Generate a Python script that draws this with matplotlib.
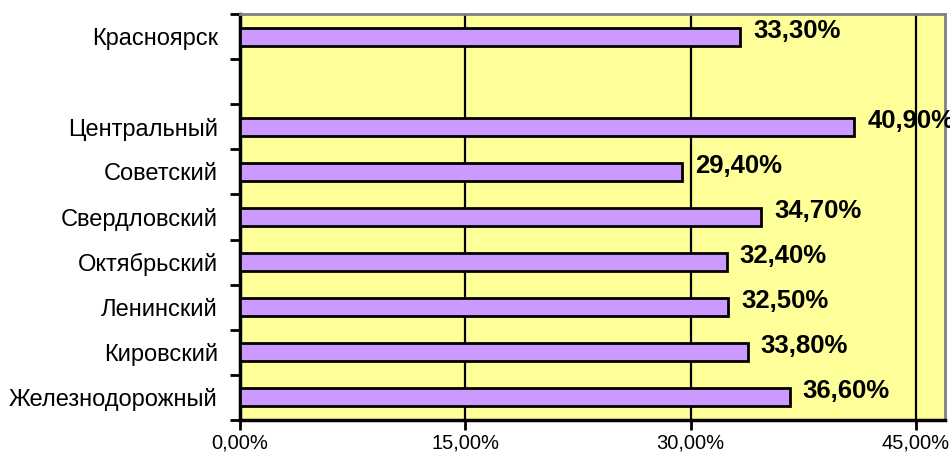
import matplotlib.pyplot as plt
import numpy as np

plt.rcParams['font.family'] = ['Liberation Sans', 'DejaVu Sans']

# Data (top to bottom), empty slot between the city and its districts
categories = ['Красноярск', '', 'Центральный', 'Советский', 'Свердловский',
              'Октябрьский', 'Ленинский', 'Кировский', 'Железнодорожный']
values = [33.3, None, 40.9, 29.4, 34.7, 32.4, 32.5, 33.8, 36.6]
xticks = [0, 15, 30, 45]

fig = plt.figure(figsize=(9.5, 4.55), dpi=100)
ax = fig.add_axes([240 / 950, 35 / 455, 705 / 950, 406 / 455])
ax.set_facecolor('#FFFF99')

pos = np.arange(len(categories))
for y, v in zip(pos, values):
    if v is None:
        continue
    ax.barh(y, v, height=0.4, color='#CC99FF', edgecolor='black', linewidth=2, zorder=3)
    ax.annotate(f'{v:.2f}%'.replace('.', ','), xy=(v, y), xytext=(13, 6),
                textcoords='offset pixels', ha='left', va='center',
                fontsize=18.5, fontweight='bold', zorder=4)

ax.set_xlim(0, 46.93)
ax.set_ylim(len(categories) - 0.5, -0.5)

# vertical grid lines
for x in xticks[1:]:
    ax.axvline(x, color='black', linewidth=1.6, zorder=2)

ax.set_xticks(xticks)
ax.set_xticklabels([f'{x:.2f}%'.replace('.', ',') for x in xticks], fontsize=14.5)
ax.tick_params(axis='x', direction='out', length=7, width=2, pad=3)

ax.set_yticks(pos)
ax.set_yticklabels(categories, fontsize=17)
ax.tick_params(axis='y', which='major', length=0, pad=16)
ax.set_yticks(np.arange(-0.5, len(categories)), minor=True)
ax.tick_params(axis='y', which='minor', direction='out', length=7, width=2)

for s in ['left', 'bottom']:
    ax.spines[s].set_linewidth(2.5)
    ax.spines[s].set_color('black')
for s in ['top', 'right']:
    ax.spines[s].set_linewidth(2)
    ax.spines[s].set_color('#808080')

fig.savefig('out.png', dpi=100)
